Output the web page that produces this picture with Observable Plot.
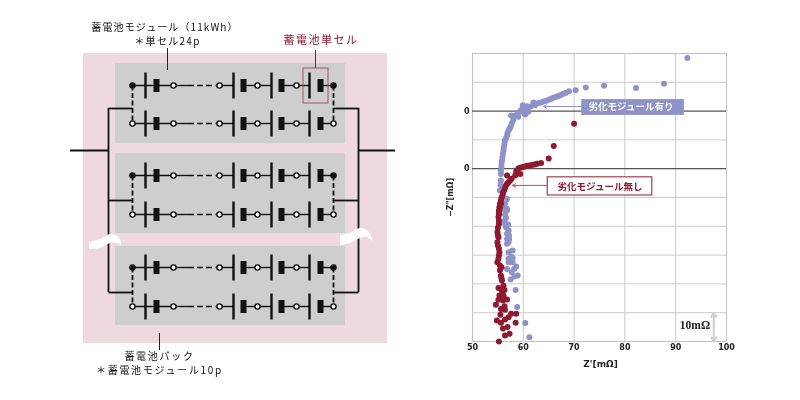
<!DOCTYPE html>
<html lang="ja"><head><meta charset="utf-8">
<style>html,body{margin:0;padding:0;background:#fff}#stage{position:relative;width:800px;height:400px;overflow:hidden;filter:blur(.4px)}#stage svg{position:absolute;left:0;top:0;background:transparent}</style>
<script src="https://cdn.jsdelivr.net/npm/d3@7"></script>
<script src="https://cdn.jsdelivr.net/npm/@observablehq/plot@0.6"></script>
</head><body><div id="stage"></div>
<script>
// Nyquist plot: Z' [mΩ] / -Z'' (10 mΩ per grid step)
const degradedX=[92.3,87.7,82.2,75.9,72.3,70.3,69,68.4,67.9,67.4,66.9,66.4,65.9,65.4,65,64.5,64,63.5,63,62.5,62,62.3,61.4,60.7,59.9,60.8,60,59.4,60.4,58.9,58.4,57.6,59.8,59,61,60.2,58,57.7,57.5,57.3,57.1,56.9,56.8,56.6,56.4,56.3,56.2,56.1,56,55.9,55.8,55.7,55.7,55.6,55.6,55.6,55.5,55.4,55.8,56.8,56.4,56.8,56.2,56.8,56.4,56.6,56.3,56.4,57,56.6,57.1,56.8,57.2,56.8,57.2,56.8,57.1,57.9,57.1,57.7,57.1,57.9,57.1,57.9,58.6,58.2,56.8,57.7,58.9,58.2,57.5,58.5,58.8,60.4,61.2];
const degradedY=[98.4,89.5,88,88.8,88.2,87.2,86.9,86.4,86,85.6,85.2,84.9,84.6,84.2,83.9,83.6,83.3,83,82.8,82.4,83,82,81.6,81.7,82,80.8,80.4,80,78.8,79,78.5,78.5,80.9,78,79.8,79.2,76.7,75.6,74.6,74,73.3,72.4,71.5,70.6,69.8,68.6,67.5,66.4,65.2,64,62.8,61.6,60.5,59.4,58.2,55.9,54.4,52.4,53.6,49.5,47.8,46,46,45.5,44.1,42.9,41.8,40.9,40.6,39.7,38.5,37.4,36.8,35.6,35.6,33.9,34.5,31.6,31,29.3,28.7,29,27.5,27.5,26,25.2,25.2,24.1,22.9,22.6,21.5,17.9,12,6.4,1.5];
const healthyX=[70,66,65,63.5,62.7,62.2,61.7,61.2,60.7,60.2,59.7,59.3,59,58.6,59.4,58.4,56.8,57.7,57.4,57.1,56.8,56.6,56.4,56.2,56,55.9,55.7,55.6,55.4,55.3,55.2,55.2,55.6,55.4,55.3,55.2,55.1,55.2,55.2,55,54.9,55,55.1,54.9,55,55.2,55.3,55.2,55.1,54.9,55.4,55.7,55.4,55.6,55.7,55.8,56.1,55.1,56.3,55.8,56.1,55.3,56.8,55.1,56,54.6,56.3,55.6,56.4,55.5,58.6,57.6,57.1,56.4,54.8,55.6,58.5,56.9,56,57.3,56.4,55.2];
const healthyY=[75.6,67.9,63.5,62,61.7,61.5,61.3,61.1,61,60.7,60.5,60.3,60,59.1,58.2,57.6,57.6,56.5,55.9,55.3,54.8,54.2,53.3,52.4,51.6,50.7,49.9,49,47.8,46.6,45.4,44.3,47.8,46.6,45.5,44.3,43.2,42,40.9,39.5,38,37,36.2,34.5,33.3,32.2,31,29.9,28.7,27.5,26.4,25.8,24.7,22.9,22,21.2,19.4,18.6,17.9,17.5,16,16,14.6,14.5,14.2,12.8,12.2,11.3,11,9.3,9.6,9.6,8.4,7.6,7.3,6.5,6.5,5,4.5,2.7,2.1,0];
const xTicks=[50,60,70,80,90,100];
const xGrid=[60,70,80,90];
const yGrid=[10,20,30,40,50,70,90];
const yDark=[60,80];
const yZeroLabels=[60,80];

// Circuit schematic (diagram units)
const moduleRows=[[85,123],[175,214],[267,306]];
const moduleTops=[63,153,246], moduleBottoms=[143,233,325];
const busTaps=[108,200,292];
const plates=[145,233,271,309];
const blocks=[156,243,281,320];
const openNodes=[173,219,257,296];
const solidRuns=[[132,173],[215,233],[243,271],[281,309],[320,333]];
const breakLeft=[[89,242,249],[100,239,248],[110,234,243],[117,236,243],[121,241,245]];
const breakRight=[[340,235,245],[350,233,243],[360,228,238],[367,230,237],[372,238,241]];
const labelsTop=["蓄電池モジュール（11kWh）","＊単セル24p"];
const labelsBottom=["蓄電池パック","＊蓄電池モジュール10p"];
const labelCell="蓄電池単セル";
const degradedLabel="劣化モジュール有り", healthyLabel="劣化モジュール無し";

const PURPLE="#8f92c6", RED="#8d1a30", INK="#111", JP="'Noto Sans CJK JP','Noto Sans',sans-serif";
const rows=moduleRows.flat(), isTop=i=>i%2===0;

const runs=rows.flatMap(y=>solidRuns.map(([a,b])=>({a,b,y})));
const plateTicks=rows.flatMap(y=>plates.map(x=>({x,y})));
const blockTicks=rows.flatMap(y=>blocks.map(x=>({x,y})));
const circles=rows.flatMap((y,i)=>[...openNodes.map(x=>({x,y,fill:"#fff"})),
  {x:132,y,fill:isTop(i)?INK:"#fff"},{x:333,y,fill:isTop(i)?INK:"#fff"}]);
const stubs=moduleRows.flatMap(([t,b])=>[132,333].map(x=>({x,t,b})));
const taps=busTaps.flatMap(y=>[{a:108,b:132,y},{a:333,b:358,y}]);

const diagram=Plot.plot({
  width:800,height:400,margin:0,
  x:{domain:[0,800],range:[0,800],axis:null},
  y:{domain:[0,400],range:[0,400],axis:null},
  marks:[
    Plot.rect([{a:83,b:387,t:53,u:343}],{x1:"a",x2:"b",y1:"t",y2:"u",fill:"#eed9df"}),
    Plot.rect(moduleTops.map((t,i)=>({t,u:moduleBottoms[i]})),{x1:()=>115,x2:()=>345,y1:"t",y2:"u",fill:"#cecece"}),
    Plot.ruleY(rows,{x1:188,x2:215,stroke:INK,strokeWidth:1.6,strokeDasharray:"6 3"}),
    Plot.ruleY(rows,{x1:173,x2:188,stroke:INK,strokeWidth:1.4}),
    Plot.link(runs,{x1:"a",x2:"b",y1:"y",y2:"y",stroke:INK,strokeWidth:1.4}),
    Plot.link(stubs,{x1:"x",x2:"x",y1:"t",y2:"b",stroke:INK,strokeWidth:1.8,strokeDasharray:"5 2.5"}),
    Plot.link(plateTicks,{x1:"x",x2:"x",y1:d=>d.y-13,y2:d=>d.y+13,stroke:INK,strokeWidth:2.4}),
    Plot.link(blockTicks,{x1:"x",x2:"x",y1:d=>d.y-6.5,y2:d=>d.y+6.5,stroke:INK,strokeWidth:6}),
    Plot.dot(circles,{x:"x",y:"y",r:2.6,fill:"fill",stroke:INK,strokeWidth:1.4}),
    Plot.link(taps,{x1:"a",x2:"b",y1:"y",y2:"y",stroke:INK,strokeWidth:1.8}),
    Plot.ruleX([108,358],{y1:108,y2:292,stroke:INK,strokeWidth:1.8}),
    Plot.ruleY([150],{x1:70,x2:108,stroke:INK,strokeWidth:1.8}),
    Plot.ruleY([150],{x1:358,x2:395,stroke:INK,strokeWidth:1.8}),
    Plot.area(breakLeft,{x1:"0",y1:"1",y2:"2",curve:"catmull-rom",fill:"#fff"}),
    Plot.area(breakRight,{x1:"0",y1:"1",y2:"2",curve:"catmull-rom",fill:"#fff"}),
    Plot.rect([0],{x1:303,x2:328,y1:68,y2:103,fill:"none",stroke:"#a85060",strokeWidth:1}),
    Plot.ruleX([315],{y1:50,y2:68,stroke:RED,strokeWidth:1}),
    Plot.ruleX([167],{y1:48,y2:70,stroke:"#222",strokeWidth:1}),
    Plot.ruleX([159],{y1:333,y2:350,stroke:"#222",strokeWidth:1}),
    Plot.text([labelsTop[0]],{x:164.5,y:27.5,text:d=>d,fontFamily:JP,fontSize:10,fill:"#111"}),
    Plot.text([labelsTop[1]],{x:167,y:41.5,text:d=>d,fontFamily:JP,fontSize:10,fill:"#111"}),
    Plot.text([labelsBottom[0]],{x:159,y:356,text:d=>d,fontFamily:JP,fontSize:10,fill:"#111"}),
    Plot.text([labelsBottom[1]],{x:159,y:370,text:d=>d,fontFamily:JP,fontSize:10,fill:"#111"}),
    Plot.text([labelCell],{x:320.5,y:40,text:d=>d,fontFamily:JP,fontSize:11,fill:RED})
  ]
});
const spacing=new Map([[labelsTop[0],"1.1px"],[labelsTop[1],"1.3px"],[labelsBottom[0],"1.7px"],[labelsBottom[1],"1.7px"],[labelCell,"1.5px"]]);
diagram.querySelectorAll("text").forEach(t=>{const s=spacing.get(t.textContent);if(s)t.style.letterSpacing=s;});

const scatter=Plot.plot({
  width:800,height:400,marginLeft:472,marginRight:74,marginTop:53,marginBottom:59,
  x:{domain:[50,100]},
  y:{domain:[0,100]},
  marks:[
    Plot.ruleX(xGrid,{stroke:"#c9c9c9",strokeWidth:1}),
    Plot.ruleY(yGrid,{stroke:"#cbcbcb",strokeWidth:1}),
    Plot.frame({stroke:"#c2c2c2",strokeWidth:1.1}),
    Plot.ruleY(yDark,{stroke:"#555",strokeWidth:1.2}),
    Plot.dot(degradedX.map((x,i)=>[x,degradedY[i]]),{x:"0",y:"1",r:3,fill:PURPLE}),
    Plot.dot(healthyX.map((x,i)=>[x,healthyY[i]]),{x:"0",y:"1",r:3,fill:RED}),
    Plot.axisX({ticks:xTicks,tickSize:0,tickPadding:3,label:null,fontSize:8,fontWeight:"bold",fontFamily:"'DejaVu Sans'",color:"#222"}),
    Plot.axisY({ticks:yZeroLabels,tickFormat:()=>"0",tickSize:0,tickPadding:3,label:null,fontSize:8,fontWeight:"bold",fontFamily:"'DejaVu Sans'",color:"#222"}),
    Plot.text(["Z'[mΩ]"],{x:75.2,y:-8,text:d=>d,fontFamily:"'DejaVu Sans'",fontWeight:"bold",fontSize:9,fill:"#222"}),
    Plot.text(["−Z\"[mΩ]"],{x:45.6,y:50,text:d=>d,rotate:-90,fontFamily:"'DejaVu Sans'",fontWeight:"bold",fontSize:8,fill:"#222"}),
    Plot.arrow([0],{x1:71.5,y1:81.6,x2:64,y2:81.6,stroke:PURPLE,strokeWidth:1,headLength:5}),
    Plot.arrow([0],{x1:64.8,y1:54.2,x2:57.9,y2:54.2,stroke:"#b0505f",strokeWidth:1,headLength:5}),
    Plot.rect([0],{x1:71.5,x2:91.7,y1:78.5,y2:84,fill:PURPLE}),
    Plot.rect([0],{x1:64.8,x2:85.4,y1:50.7,y2:57,fill:"#fff",stroke:RED,strokeWidth:1}),
    Plot.text([degradedLabel],{x:81.2,y:81.3,text:d=>d,fontFamily:JP,fontWeight:"bold",fontSize:9.5,fill:"#fff"}),
    Plot.text([healthyLabel],{x:75.1,y:53.8,text:d=>d,fontFamily:JP,fontWeight:"bold",fontSize:9.5,fill:RED}),
    Plot.arrow([0],{x1:97.5,y1:5,x2:97.5,y2:10,stroke:"#cfcfcf",strokeWidth:2,headLength:6}),
    Plot.arrow([0],{x1:97.5,y1:5,x2:97.5,y2:0,stroke:"#cfcfcf",strokeWidth:2,headLength:6}),
    Plot.text(["10mΩ"],{x:93.8,y:5.6,text:d=>d,fontFamily:"'Liberation Serif'",fontWeight:"bold",fontSize:11.5,fill:"#222"})
  ]
});
const stage=document.getElementById("stage");
stage.append(diagram,scatter);
</script></body></html>
